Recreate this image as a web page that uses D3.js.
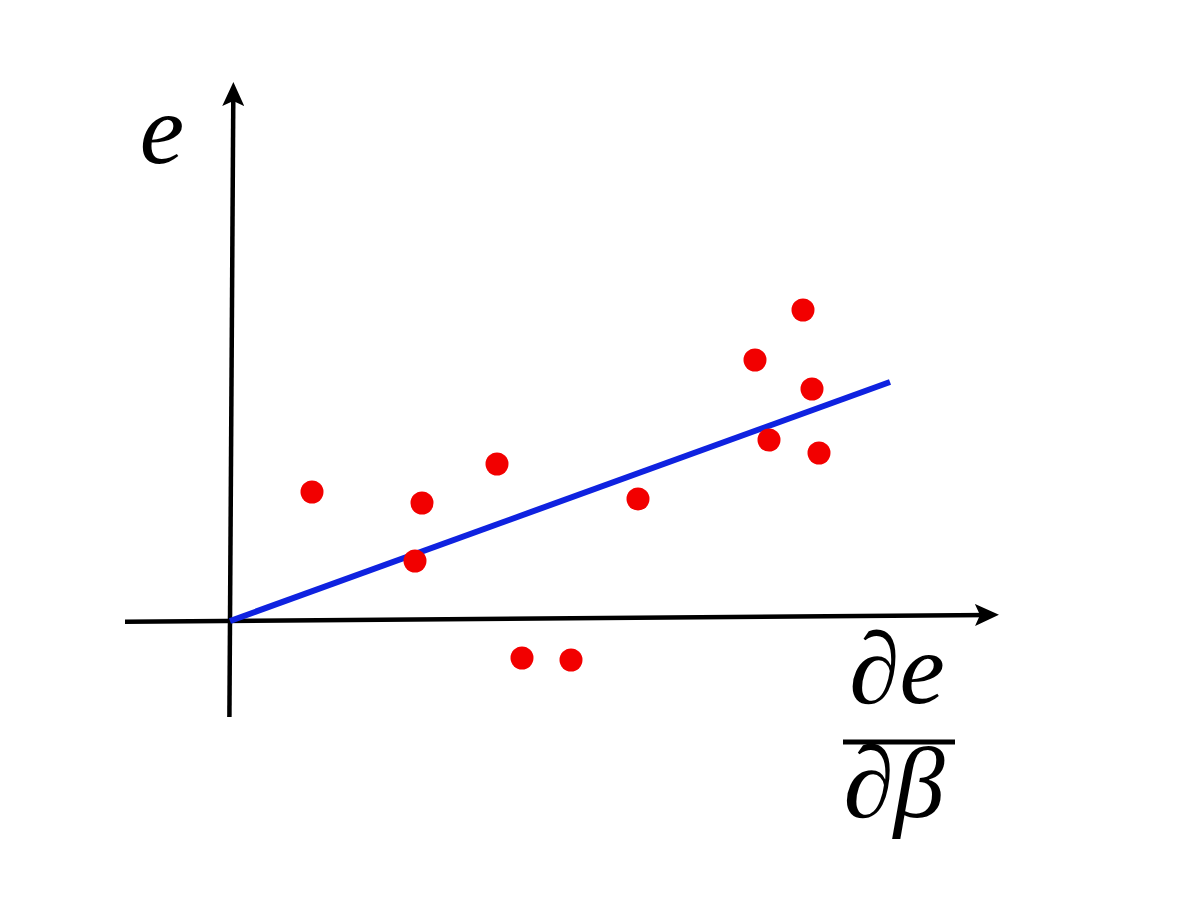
<!DOCTYPE html>
<html>
<head>
<meta charset="utf-8">
<script src="https://cdn.jsdelivr.net/npm/d3@7"></script>
<style>
  html, body { margin: 0; padding: 0; background: #fff; }
  svg { display: block; }
</style>
</head>
<body>
<svg id="chart" width="1196" height="920"></svg>
<script>
// ---- Data (arbitrary units) ----
const pointsX = [1.64, 3.84, 3.70, 5.34, 8.16, 10.50, 11.46, 11.64, 10.78, 11.78, 5.84, 6.82];
const pointsY = [2.58, 2.36, 1.20, 3.14, 2.44, 5.22, 6.22, 4.64, 3.62, 3.36, -0.74, -0.78];
const fitLineX = [0, 13.2];
const fitLineY = [0, 4.78];
const xAxisExtent = [-2.1, 15.36];
const yAxisExtent = [-1.92, 10.76];
const yLabel = "e";
const xLabelNum = "\u2202e";
const xLabelDen = "\u2202\u03B2";

const svg = d3.select("#chart");
const x = d3.scaleLinear().domain([0, 15.4]).range([230, 1000]);
const y = d3.scaleLinear().domain([0, 10.76]).range([621, 83]);

svg.append("defs").append("marker")
  .attr("id", "arrow")
  .attr("viewBox", "0 0 24 22")
  .attr("refX", 23).attr("refY", 11)
  .attr("markerUnits", "userSpaceOnUse")
  .attr("markerWidth", 24).attr("markerHeight", 22)
  .attr("orient", "auto")
  .append("path")
  .attr("d", "M0,0 L24,11 L0,22 L5,11 Z")
  .attr("fill", "#000");

// x axis (slightly tilted as in the reference)
svg.append("g")
  .attr("transform", `rotate(-0.46, ${x(0)}, ${y(0)})`)
  .append("line")
  .attr("x1", x(xAxisExtent[0])).attr("y1", y(0))
  .attr("x2", x(xAxisExtent[1]) - 8).attr("y2", y(0))
  .attr("stroke", "#000").attr("stroke-width", 4.5);
svg.append("g")
  .attr("transform", `rotate(-0.46, ${x(0)}, ${y(0)})`)
  .append("line")
  .attr("x1", x(xAxisExtent[0])).attr("y1", y(0))
  .attr("x2", x(xAxisExtent[1])).attr("y2", y(0))
  .attr("stroke", "none")
  .attr("marker-end", "url(#arrow)");

// y axis
svg.append("g")
  .attr("transform", `rotate(0.36, ${x(0)}, ${y(0)})`)
  .append("line")
  .attr("x1", x(0)).attr("y1", y(yAxisExtent[0]))
  .attr("x2", x(0)).attr("y2", y(yAxisExtent[1]) + 8)
  .attr("stroke", "#000").attr("stroke-width", 4.5);
svg.append("g")
  .attr("transform", `rotate(0.36, ${x(0)}, ${y(0)})`)
  .append("line")
  .attr("x1", x(0)).attr("y1", y(yAxisExtent[0]))
  .attr("x2", x(0)).attr("y2", y(yAxisExtent[1]))
  .attr("stroke", "none")
  .attr("marker-end", "url(#arrow)");

// fit line
svg.append("line")
  .attr("x1", x(fitLineX[0])).attr("y1", y(fitLineY[0]))
  .attr("x2", x(fitLineX[1])).attr("y2", y(fitLineY[1]))
  .attr("stroke", "#0f22e0").attr("stroke-width", 6)
  .attr("stroke-linecap", "butt");

// points
svg.append("g").selectAll("circle")
  .data(pointsX.map((d, i) => [d, pointsY[i]]))
  .join("circle")
  .attr("cx", d => x(d[0]))
  .attr("cy", d => y(d[1]))
  .attr("r", 11.5)
  .attr("fill", "#f20000");

// labels
const fontFam = "'Liberation Serif', 'Times New Roman', serif";
svg.append("text")
  .attr("x", 162).attr("y", 163)
  .attr("text-anchor", "middle")
  .attr("font-family", fontFam)
  .attr("font-style", "italic")
  .attr("font-size", 100)
  .text(yLabel);

svg.append("text")
  .attr("x", 897).attr("y", 703)
  .attr("text-anchor", "middle")
  .attr("font-family", fontFam)
  .attr("font-style", "italic")
  .attr("font-size", 102)
  .text(xLabelNum);

svg.append("line")
  .attr("x1", 843).attr("y1", 742)
  .attr("x2", 955).attr("y2", 742)
  .attr("stroke", "#000").attr("stroke-width", 5);

svg.append("text")
  .attr("x", 894).attr("y", 817)
  .attr("text-anchor", "middle")
  .attr("font-family", fontFam)
  .attr("font-style", "italic")
  .attr("font-size", 102)
  .text(xLabelDen);
</script>
</body>
</html>
